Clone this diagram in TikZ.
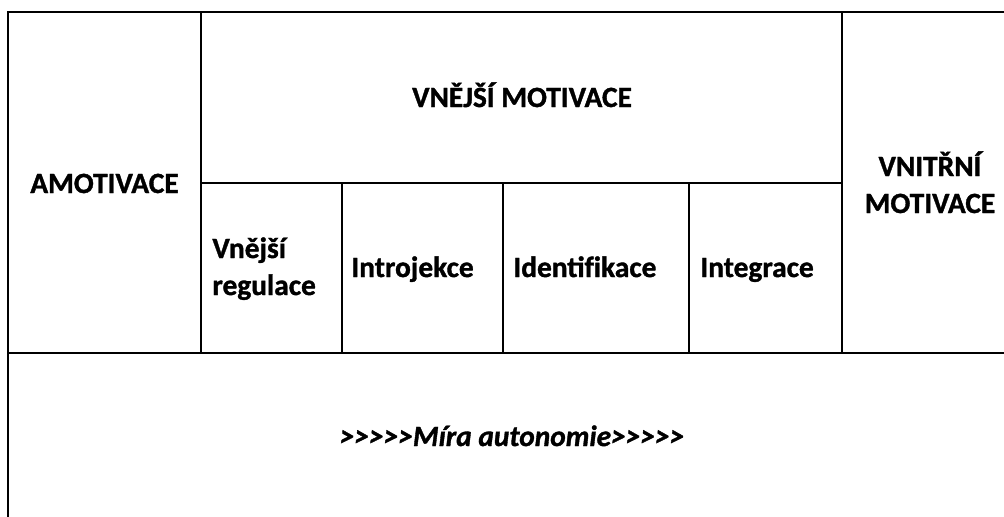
\documentclass[tikz,border=0pt]{standalone}
\usepackage{fontspec}
\setmainfont{Carlito}[BoldFeatures={FakeBold=1.2}, BoldItalicFeatures={FakeBold=1.2}]
\newcommand{\chev}{>\kern0pt}
\begin{document}
\begin{tikzpicture}[x=0.5pt, y=-0.5pt,
    rule/.style = {line width=1.1pt, black},
    cell/.style = {inner sep=0pt, font=\fontsize{14.7}{18.5}\selectfont\bfseries},
    hint/.style = {cell, font=\fontsize{14.7}{18.5}\selectfont\bfseries\itshape}]
    \useasboundingbox (0,0) rectangle (1004,516);
    \clip (0,0) rectangle (1004,516);

    % table rules
    \draw[rule] (8,530) -- (8,12) -- (1020,12);
    \draw[rule] (8,353) -- (1020,353);
    \draw[rule] (201,12) -- (201,353);
    \draw[rule] (842,12) -- (842,353);
    \draw[rule] (201,183) -- (842,183);
    \draw[rule] (342,183) -- (342,353);
    \draw[rule] (503,183) -- (503,353);
    \draw[rule] (689,183) -- (689,353);

    % cell texts
    \node[cell, anchor=base] (amot) at (104.5,193) {AMOTIVACE};
    \node[cell, anchor=base] (vnej) at (522,107) {VNĚJŠÍ MOTIVACE};
    \node[cell, anchor=base, align=center] (vnit) at (930,213) {VNITŘNÍ\\MOTIVACE};
    \node[cell, anchor=base west, align=left] (regul) at (212,295) {Vnější\\regulace};
    \node[cell, anchor=base west] (intro) at (351,277) {Introjekce};
    \node[cell, anchor=base west] (ident) at (513,277) {Identif\kern0pt ikace};
    \node[cell, anchor=base west] (integ) at (700,277) {Integrace};
    \node[hint, anchor=base] (miera) at (512,446)
        {\chev\chev\chev\chev\chev Míra autonomie\chev\chev\chev\chev>};
\end{tikzpicture}
\end{document}
